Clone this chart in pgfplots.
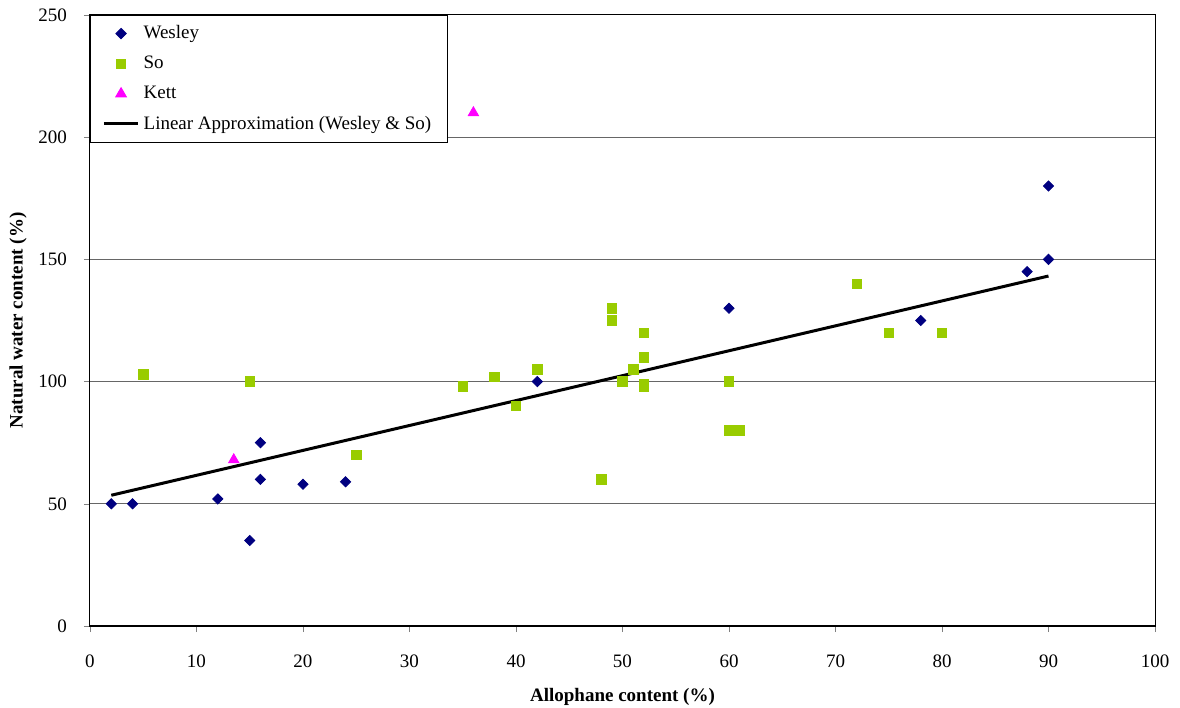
\documentclass[border=0pt]{standalone}
\usepackage{fontspec}
\setmainfont{Liberation Serif}
\usepackage{pgfplots}
\pgfplotsset{compat=1.18}
\usetikzlibrary{calc}
\definecolor{wes}{HTML}{000080}
\definecolor{so}{HTML}{99CC00}
\definecolor{kett}{HTML}{FF00FF}
\begin{document}
\begin{tikzpicture}
\begin{axis}[
 scale only axis, width=532.5pt, height=305.5pt,
 xmin=0,xmax=100,ymin=0,ymax=250,
 xtick={0,10,...,100}, ytick={0,50,...,250},
 tick align=outside, xtick pos=bottom, ytick pos=left,
 major tick length=3pt,
 ymajorgrids, grid style={draw=gray!80!black, line width=0.5pt},
 axis line style={line width=0.5pt},
 /pgf/number format/assume math mode=true,
 tick label style={font=\fontsize{9.5}{11}\selectfont},
 xticklabel style={yshift=-8pt},
 yticklabel style={xshift=-5pt},
 xlabel={\textbf{Allophane content (\%)}},
 ylabel={\textbf{Natural water content (\%)}},
 label style={font=\fontsize{9.5}{11}\selectfont},
 xlabel style={at={(axis description cs:0.5,-0.1162)}, anchor=center},
 ylabel style={at={(axis description cs:-0.0676,0.5)}, anchor=center},
 legend style={at={(0,1)}, anchor=north west, draw=black, line width=0.5pt, fill=white,
   font=\fontsize{9.5}{11}\selectfont, row sep=3.2pt, inner xsep=6pt, inner ysep=3pt},
 legend cell align=left,
]
\addplot[only marks, mark=square*, mark size=1.8pt, mark options={rotate=45}, color=wes] coordinates {
(2,50) (4,50) (12,52) (15,35) (16,60) (16,75) (20,58) (24,59) (42,100) (60,130) (78,125) (88,145) (90,150) (90,180)};
\addlegendentry{Wesley}
\addplot[only marks, mark=square*, mark size=2.4pt, color=so] coordinates {
(5,103) (15,100) (25,70) (35,98) (38,102) (40,90) (42,105) (48,60) (49,130) (49,125) (50,100) (51,105) (52,120) (52,110) (52,99) (52,98) (60,100) (60,80) (61,80) (72,140) (75,120) (80,120)};
\addlegendentry{So}
\addplot[only marks, mark=triangle*, mark size=3pt, color=kett] coordinates {
(13.5,68) (36,210)};
\addlegendentry{Kett}
\addplot[black, line width=1.5pt, no marks] coordinates {(2,53.5) (90,143.2)};
\addlegendentry{Linear Approximation (Wesley \& So)}
\draw[line width=1pt] (rel axis cs:0,0) -- (rel axis cs:1,0);
\end{axis}
\pgfresetboundingbox
\path[use as bounding box] ($(current axis.south west)+(-45pt,-41pt)$) rectangle ($(current axis.north east)+(12.5pt,7.5pt)$);
\end{tikzpicture}
\end{document}
